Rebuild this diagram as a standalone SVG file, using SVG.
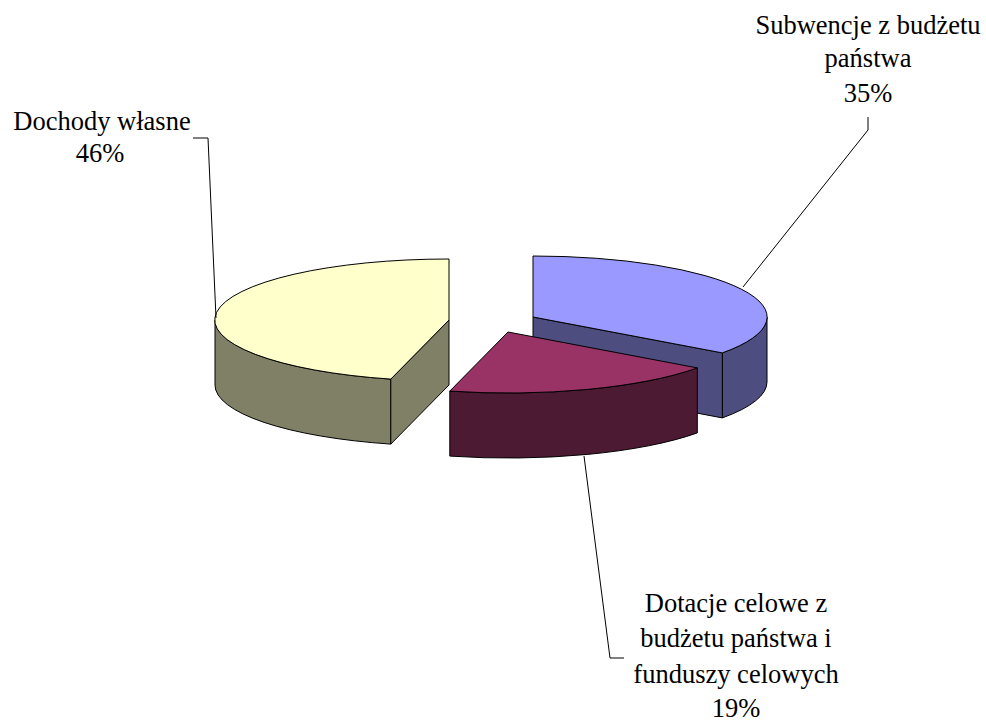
<svg xmlns="http://www.w3.org/2000/svg" width="986" height="722" viewBox="0 0 986 722">
<style>
  .f { stroke: #000; stroke-width: 1; stroke-linejoin: round; }
  .yt { fill: #FFFFCC; } .ys { fill: #808066; }
  .bt { fill: #9999FF; } .bs { fill: #4D4D80; }
  .mt { fill: #993366; } .ms { fill: #4D1A33; }
  .lbl { font-family: "Liberation Serif", "Times New Roman", serif; font-size: 26.5px; fill: #000; text-anchor: middle; }
  .lead { fill: none; stroke: #000; stroke-width: 1; }
</style>
<rect width="986" height="722" fill="#fff"/>
<g id="slice-subwencje">
  <path class="f bs" d="M767,317 A234,61 0 0,1 722.3,352.9 L722.3,417.9 A234,61 0 0,0 767,382 Z"/>
  <path class="f bs" d="M533,317 L722.3,352.9 L722.3,417.9 L533,382 Z"/>
  <path class="f bt" d="M533,317 L533,256 A234,61 0 0,1 722.3,352.9 Z"/>
</g>
<g id="slice-dochody">
  <path class="f ys" d="M215,320 A234,61 0 0,0 390.8,379.1 L390.8,444.1 A234,61 0 0,1 215,385 Z"/>
  <path class="f ys" d="M449,320 L390.8,379.1 L390.8,444.1 L449,385 Z"/>
  <path class="f yt" d="M449,320 L449,259 A234,61 0 0,0 390.8,379.1 Z"/>
</g>
<g id="slice-dotacje">
  <path class="f ms" d="M697.3,367.9 A234,61 0 0,1 449.8,391.1 L449.8,456.1 A234,61 0 0,0 697.3,432.9 Z"/>
  <path class="f mt" d="M508,332 L697.3,367.9 A234,61 0 0,1 449.8,391.1 Z"/>
</g>
<g id="connectors">
  <polyline class="lead" points="193,138 208,138 216,318"/>
  <polyline class="lead" points="868,117 868,130 743,287"/>
  <polyline class="lead" points="584,456 610,658 624,658"/>
</g>
<g id="label-dochody">
  <text class="lbl" x="102" y="130">Dochody własne</text>
  <text class="lbl" x="100" y="162">46%</text>
</g>
<g id="label-subwencje">
  <text class="lbl" x="868" y="34">Subwencje z budżetu</text>
  <text class="lbl" x="868" y="67">państwa</text>
  <text class="lbl" x="868" y="102">35%</text>
</g>
<g id="label-dotacje">
  <text class="lbl" x="736" y="612">Dotacje celowe z</text>
  <text class="lbl" x="736" y="647">budżetu państwa i</text>
  <text class="lbl" x="736" y="683">funduszy celowych</text>
  <text class="lbl" x="736" y="717">19%</text>
</g>
</svg>
